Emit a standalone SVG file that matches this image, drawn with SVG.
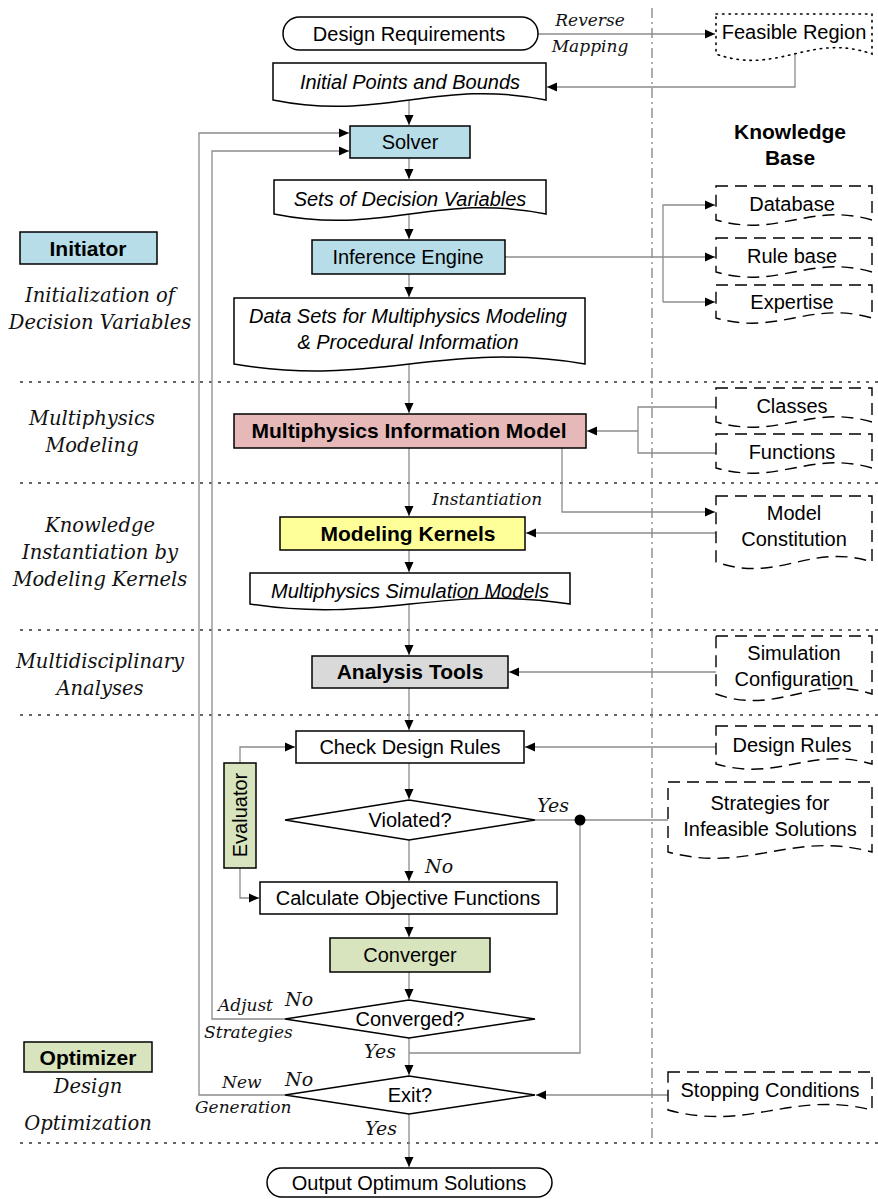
<svg xmlns="http://www.w3.org/2000/svg" width="878" height="1199" viewBox="0 0 878 1199">
<defs>
<marker id="ah" markerWidth="11" markerHeight="11" refX="10" refY="5" orient="auto" markerUnits="userSpaceOnUse"><path d="M0,0.5 L10,5 L0,9.5 z" fill="#000"/></marker>
<style>
.bx{stroke:#000;stroke-width:1.5}
.ln{stroke:#8c8c8c;stroke-width:1.3;fill:none}
.kb{fill:#fff;stroke:#000;stroke-width:1.4;stroke-dasharray:12 7}
.doc{fill:#fff;stroke:#000;stroke-width:1.5}
.sep{stroke:#333;stroke-width:1.5;stroke-dasharray:3 6;fill:none}
.t{font-family:"Liberation Sans",Arial,sans-serif;font-size:20px;fill:#000;text-anchor:middle}
.ti{font-family:"Liberation Sans",Arial,sans-serif;font-size:20px;font-style:italic;fill:#000;text-anchor:middle}
.tb{font-family:"Liberation Sans",Arial,sans-serif;font-size:21px;font-weight:bold;fill:#000;text-anchor:middle}
.s{font-family:"DejaVu Serif",serif;font-size:19.5px;font-style:italic;fill:#111;text-anchor:middle}
.f{font-family:"DejaVu Serif",serif;font-size:17px;font-style:italic;fill:#111}
.yn{font-family:"DejaVu Serif",serif;font-size:19px;font-style:italic;fill:#111}
</style>
</defs>
<rect width="878" height="1199" fill="#fff"/>

<g id="separators">
<path class="sep" d="M20,382 H878 M20,483 H878 M20,630 H878 M20,715 H878 M20,1143 H878"/>
<path d="M652,8 V1142" stroke="#777" stroke-width="1.2" stroke-dasharray="10 4 2 4" fill="none"/>
</g>

<g id="connectors">
<path class="ln" d="M538,34 H715" marker-end="url(#ah)"/>
<path class="ln" d="M795,54 V87 H547" marker-end="url(#ah)"/>
<path class="ln" d="M409,100 V125" marker-end="url(#ah)"/>
<path class="ln" d="M409,158 V179" marker-end="url(#ah)"/>
<path class="ln" d="M409,214 V239" marker-end="url(#ah)"/>
<path class="ln" d="M409,274 V297" marker-end="url(#ah)"/>
<path class="ln" d="M505,257 H715" marker-end="url(#ah)"/>
<path class="ln" d="M663,302 V205 H715" marker-end="url(#ah)"/>
<path class="ln" d="M663,302 H715" marker-end="url(#ah)"/>
<path class="ln" d="M409,364 V413" marker-end="url(#ah)"/>
<path class="ln" d="M716,407 H638 V453 H716"/>
<path class="ln" d="M638,431 H587" marker-end="url(#ah)"/>
<path class="ln" d="M409,448 V516" marker-end="url(#ah)"/>
<path class="ln" d="M562,448 V512 H715" marker-end="url(#ah)"/>
<path class="ln" d="M716,533 H526" marker-end="url(#ah)"/>
<path class="ln" d="M409,550 V572" marker-end="url(#ah)"/>
<path class="ln" d="M409,604 V655" marker-end="url(#ah)"/>
<path class="ln" d="M716,672 H509" marker-end="url(#ah)"/>
<path class="ln" d="M409,688 V730" marker-end="url(#ah)"/>
<path class="ln" d="M716,747 H525" marker-end="url(#ah)"/>
<path class="ln" d="M409,763 V799" marker-end="url(#ah)"/>
<path class="ln" d="M240,763 V747 H295" marker-end="url(#ah)"/>
<path class="ln" d="M240,868 V898 H259" marker-end="url(#ah)"/>
<path class="ln" d="M535,820 H668"/>
<path class="ln" d="M580,820 V1053 H409"/>
<path class="ln" d="M409,840 V881" marker-end="url(#ah)"/>
<path class="ln" d="M409,914 V937" marker-end="url(#ah)"/>
<path class="ln" d="M409,972 V999" marker-end="url(#ah)"/>
<path class="ln" d="M409,1038 V1075" marker-end="url(#ah)"/>
<path class="ln" d="M285,1019 H212 V151 H349" marker-end="url(#ah)"/>
<path class="ln" d="M285,1095 H199 V133 H349" marker-end="url(#ah)"/>
<path class="ln" d="M668,1095 H536" marker-end="url(#ah)"/>
<path class="ln" d="M409,1114 V1167" marker-end="url(#ah)"/>
<circle cx="580" cy="820" r="5.5" fill="#000"/>
</g>

<g id="design-requirements">
<rect class="bx" x="283" y="17" width="255" height="33" rx="16.5" fill="#fff"/>
<text class="t" x="409" y="41">Design Requirements</text>
</g>
<g id="reverse-mapping-label">
<text class="f" x="590" y="26" text-anchor="middle">Reverse</text>
<text class="f" x="590" y="52" text-anchor="middle">Mapping</text>
</g>
<g id="feasible-region">
<path d="M716,14 H872 V54 C810,32 778,76 716,54 Z" fill="#fff" stroke="#000" stroke-width="1.6" stroke-dasharray="1.5 5" stroke-linecap="round"/>
<text class="t" x="794" y="39">Feasible Region</text>
</g>
<g id="initial-points">
<path class="doc" d="M273,63 H546 V100 C437,78 382,122 273,100 Z"/>
<text class="ti" x="410" y="89">Initial Points and Bounds</text>
</g>
<g id="solver">
<rect class="bx" x="350" y="126" width="120" height="32" fill="#b7dde8"/>
<text class="t" x="410" y="149">Solver</text>
</g>
<g id="sets-decision-variables">
<path class="doc" d="M274,180 H546 V214 C437,192 383,236 274,214 Z"/>
<text class="ti" x="410" y="206">Sets of Decision Variables</text>
</g>
<g id="inference-engine">
<rect class="bx" x="312" y="240" width="193" height="34" fill="#b7dde8"/>
<text class="t" x="408" y="264">Inference Engine</text>
</g>
<g id="data-sets">
<path class="doc" d="M234,298 H585 V364 C444,340 375,388 234,364 Z"/>
<text class="ti" x="408" y="323">Data Sets for Multiphysics Modeling</text>
<text class="ti" x="408" y="349">&amp; Procedural Information</text>
</g>
<g id="knowledge-base-title">
<text class="tb" x="790" y="139">Knowledge</text>
<text class="tb" x="790" y="165">Base</text>
</g>
<g id="database">
<path class="kb" d="M716,186 H872 V220 C810,202 778,238 716,220 Z"/>
<text class="t" x="792" y="211">Database</text>
</g>
<g id="rule-base">
<path class="kb" d="M716,238 H872 V272 C810,254 778,290 716,272 Z"/>
<text class="t" x="792" y="263">Rule base</text>
</g>
<g id="expertise">
<path class="kb" d="M716,285 H872 V318 C810,300 778,336 716,318 Z"/>
<text class="t" x="792" y="309">Expertise</text>
</g>
<g id="initiator">
<rect class="bx" x="20" y="232" width="137" height="32" fill="#b7dde8"/>
<text class="tb" x="88" y="256">Initiator</text>
</g>
<g id="phase-labels">
<text class="s" x="100" y="302">Initialization of</text>
<text class="s" x="100" y="329">Decision Variables</text>
<text class="s" x="92" y="425">Multiphysics</text>
<text class="s" x="92" y="452">Modeling</text>
<text class="s" x="100" y="532">Knowledge</text>
<text class="s" x="100" y="559">Instantiation by</text>
<text class="s" x="100" y="586">Modeling Kernels</text>
<text class="s" x="100" y="668">Multidisciplinary</text>
<text class="s" x="100" y="695">Analyses</text>
<text class="s" x="88" y="1093">Design</text>
<text class="s" x="88" y="1130">Optimization</text>
</g>
<g id="multiphysics-information-model">
<rect class="bx" x="234" y="414" width="352" height="34" fill="#e6b9b8"/>
<text class="tb" x="409" y="438">Multiphysics Information Model</text>
</g>
<g id="classes">
<path class="kb" d="M716,388 H872 V422 C810,404 778,440 716,422 Z"/>
<text class="t" x="792" y="413">Classes</text>
</g>
<g id="functions">
<path class="kb" d="M716,434 H872 V468 C810,450 778,486 716,468 Z"/>
<text class="t" x="792" y="459">Functions</text>
</g>
<g id="instantiation-label">
<text class="f" x="432" y="505">Instantiation</text>
</g>
<g id="modeling-kernels">
<rect class="bx" x="280" y="517" width="245" height="33" fill="#ffff99"/>
<text class="tb" x="408" y="541">Modeling Kernels</text>
</g>
<g id="model-constitution">
<path class="kb" d="M716,496 H872 V562 C810,542 778,584 716,562 Z"/>
<text class="t" x="794" y="520">Model</text>
<text class="t" x="794" y="546">Constitution</text>
</g>
<g id="simulation-models">
<path class="doc" d="M250,573 H570 V604 C442,584 378,624 250,604 Z"/>
<text class="ti" x="410" y="598">Multiphysics Simulation Models</text>
</g>
<g id="analysis-tools">
<rect class="bx" x="312" y="656" width="196" height="32" fill="#d9d9d9"/>
<text class="tb" x="410" y="679">Analysis Tools</text>
</g>
<g id="simulation-configuration">
<path class="kb" d="M716,636 H872 V694 C810,674 778,716 716,694 Z"/>
<text class="t" x="794" y="660">Simulation</text>
<text class="t" x="794" y="686">Configuration</text>
</g>
<g id="check-design-rules">
<rect class="bx" x="296" y="731" width="228" height="32" fill="#fff"/>
<text class="t" x="410" y="754">Check Design Rules</text>
</g>
<g id="design-rules">
<path class="kb" d="M716,726 H872 V764 C810,746 778,782 716,764 Z"/>
<text class="t" x="792" y="752">Design Rules</text>
</g>
<g id="evaluator">
<rect class="bx" x="224" y="763" width="32" height="105" fill="#d7e4bd"/>
<text class="t" x="0" y="0" transform="translate(247,815) rotate(-90)">Evaluator</text>
</g>
<g id="violated">
<path class="bx" d="M285,820 L409,800 L535,820 L409,840 Z" fill="#fff"/>
<text class="t" x="410" y="827">Violated?</text>
<text class="yn" x="537" y="812">Yes</text>
<text class="yn" x="425" y="873">No</text>
</g>
<g id="strategies-infeasible">
<path class="kb" d="M668,782 H872 V852 C791,830 749,874 668,852 Z"/>
<text class="t" x="770" y="810">Strategies for</text>
<text class="t" x="770" y="836">Infeasible Solutions</text>
</g>
<g id="calculate-objective">
<rect class="bx" x="260" y="882" width="297" height="32" fill="#fff"/>
<text class="t" x="408" y="905">Calculate Objective Functions</text>
</g>
<g id="converger">
<rect class="bx" x="330" y="938" width="160" height="34" fill="#d7e4bd"/>
<text class="t" x="410" y="962">Converger</text>
</g>
<g id="converged">
<path class="bx" d="M285,1019 L409,1000 L535,1019 L409,1038 Z" fill="#fff"/>
<text class="t" x="410" y="1026">Converged?</text>
<text class="f" x="218" y="1011">Adjust</text>
<text class="yn" x="285" y="1006">No</text>
<text class="f" x="204" y="1038">Strategies</text>
<text class="yn" x="364" y="1058">Yes</text>
</g>
<g id="optimizer">
<rect class="bx" x="24" y="1042" width="128" height="30" fill="#d7e4bd"/>
<text class="tb" x="88" y="1065">Optimizer</text>
</g>
<g id="exit">
<path class="bx" d="M285,1095 L409,1076 L535,1095 L409,1114 Z" fill="#fff"/>
<text class="t" x="410" y="1102">Exit?</text>
<text class="f" x="222" y="1088">New</text>
<text class="yn" x="285" y="1086">No</text>
<text class="f" x="195" y="1113">Generation</text>
<text class="yn" x="365" y="1135">Yes</text>
</g>
<g id="stopping-conditions">
<path class="kb" d="M668,1072 H872 V1110 C791,1090 749,1132 668,1110 Z"/>
<text class="t" x="770" y="1097">Stopping Conditions</text>
</g>
<g id="output">
<rect class="bx" x="267" y="1168" width="285" height="29" rx="14.5" fill="#fff"/>
<text class="t" x="409" y="1190">Output Optimum Solutions</text>
</g>
</svg>
